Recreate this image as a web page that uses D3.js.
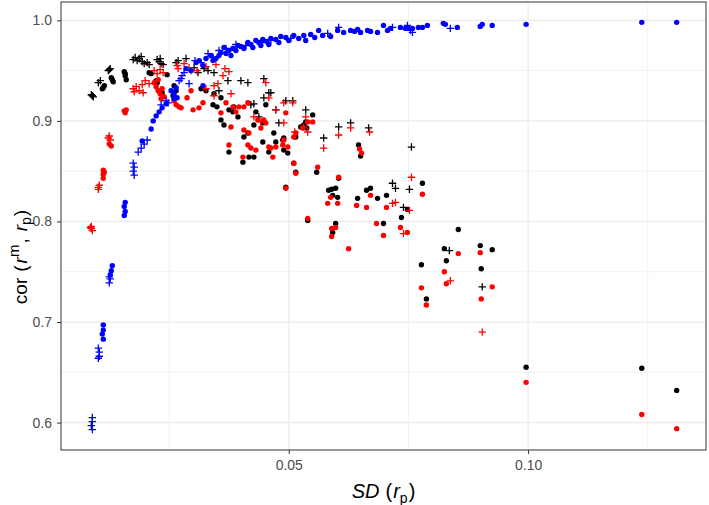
<!DOCTYPE html>
<html><head><meta charset="utf-8">
<script src="https://cdn.jsdelivr.net/npm/d3@7"></script>
<style>body{margin:0;background:#fff}</style>
</head><body><svg id="c" width="709" height="505"></svg>
<script>
// [SD(r_p), cor(r^m, r_p)]
const blackDots = [[0.01125,0.933],[0.01146,0.935],[0.01104,0.932],[0.01313,0.941],[0.01333,0.939],[0.01292,0.943],[0.01563,0.949],[0.01583,0.945],[0.01604,0.941],[0.01583,0.947],[0.02083,0.948],[0.02125,0.947],[0.02229,0.940],[0.0225,0.938],[0.02354,0.928],[0.02458,0.946],[0.02604,0.935],[0.02583,0.925],[0.02646,0.930],[0.03417,0.916],[0.03583,0.923],[0.0375,0.911],[0.03854,0.914],[0.03938,0.904],[0.03583,0.901],[0.03646,0.896],[0.04313,0.909],[0.04521,0.916],[0.04458,0.898],[0.04688,0.888],[0.04729,0.879],[0.04896,0.883],[0.04979,0.868],[0.05104,0.858],[0.055,0.906],[0.05354,0.899],[0.05833,0.831],[0.05979,0.833],[0.05917,0.826],[0.05979,0.798],[0.05917,0.789],[0.05396,0.801],[0.04042,0.859],[0.04167,0.864],[0.04271,0.864],[0.0375,0.869],[0.04583,0.869],[0.05146,0.849],[0.05583,0.849],[0.03438,0.927],[0.03833,0.909],[0.04063,0.884],[0.04146,0.888],[0.04271,0.896],[0.04458,0.879],[0.04875,0.881],[0.04896,0.871],[0.05146,0.884],[0.05313,0.896],[0.06458,0.876],[0.065,0.865],[0.06042,0.843],[0.05896,0.832],[0.06021,0.824],[0.06438,0.823],[0.06708,0.833],[0.06854,0.823],[0.07042,0.826],[0.04938,0.834],[0.06979,0.798],[0.06625,0.831],[0.07792,0.838],[0.07479,0.812],[0.07354,0.804],[0.08542,0.792],[0.0825,0.773],[0.08292,0.761],[0.09,0.776],[0.0925,0.772],[0.09021,0.753],[0.07771,0.757],[0.07875,0.723],[0.09958,0.655],[0.12375,0.654],[0.13104,0.632],[0.03167,0.932],[0.03271,0.930],[0.035,0.914],[0.0525,0.894],[0.05375,0.893]];
const blackPlus = [[0.00896,0.925],[0.00875,0.926],[0.00917,0.924],[0.01021,0.938],[0.01063,0.940],[0.0125,0.951],[0.01271,0.952],[0.01229,0.950],[0.0175,0.961],[0.01792,0.963],[0.01833,0.960],[0.01875,0.962],[0.01938,0.959],[0.01979,0.957],[0.02042,0.958],[0.02083,0.956],[0.01917,0.964],[0.0225,0.961],[0.02292,0.959],[0.02333,0.957],[0.02375,0.956],[0.02313,0.962],[0.02688,0.960],[0.02854,0.962],[0.02646,0.958],[0.03021,0.953],[0.03104,0.948],[0.03229,0.952],[0.03313,0.950],[0.03438,0.948],[0.03542,0.930],[0.03729,0.940],[0.04,0.940],[0.04146,0.938],[0.04208,0.916],[0.04479,0.942],[0.04583,0.928],[0.05354,0.911],[0.05729,0.883],[0.04271,0.917],[0.04479,0.923],[0.04729,0.911],[0.04792,0.898],[0.04375,0.904],[0.05083,0.920],[0.04938,0.920],[0.04625,0.928],[0.06042,0.894],[0.06292,0.898],[0.06667,0.893],[0.07167,0.838],[0.07229,0.833],[0.07563,0.874],[0.07521,0.832],[0.07396,0.814],[0.08354,0.771],[0.09042,0.735]];
const redDots = [[0.01125,0.851],[0.01125,0.847],[0.01125,0.843],[0.01146,0.849],[0.0125,0.877],[0.01292,0.875],[0.01563,0.910],[0.01583,0.908],[0.01604,0.911],[0.02188,0.938],[0.02229,0.934],[0.02271,0.930],[0.02313,0.927],[0.02354,0.932],[0.02396,0.924],[0.02271,0.941],[0.02333,0.922],[0.02604,0.920],[0.02708,0.914],[0.02958,0.930],[0.03,0.911],[0.03125,0.913],[0.03208,0.918],[0.03688,0.918],[0.03833,0.914],[0.03896,0.909],[0.03958,0.914],[0.04063,0.914],[0.04146,0.918],[0.04354,0.901],[0.04479,0.901],[0.04417,0.893],[0.04167,0.888],[0.04208,0.873],[0.04313,0.871],[0.04583,0.874],[0.04667,0.864],[0.0375,0.876],[0.03792,0.894],[0.04042,0.864],[0.04938,0.908],[0.05146,0.888],[0.05104,0.884],[0.04896,0.881],[0.05396,0.899],[0.05604,0.854],[0.04938,0.833],[0.05396,0.803],[0.05875,0.824],[0.05813,0.818],[0.06021,0.818],[0.06042,0.844],[0.03583,0.908],[0.04146,0.876],[0.04063,0.891],[0.04521,0.898],[0.04625,0.873],[0.04729,0.874],[0.04875,0.876],[0.04979,0.874],[0.05146,0.848],[0.05292,0.893],[0.055,0.899],[0.05104,0.858],[0.06479,0.872],[0.06521,0.868],[0.05896,0.793],[0.05896,0.785],[0.05979,0.794],[0.0625,0.773],[0.06417,0.816],[0.06625,0.814],[0.06708,0.826],[0.06833,0.798],[0.06979,0.786],[0.07042,0.814],[0.07333,0.794],[0.07792,0.827],[0.07479,0.789],[0.08542,0.768],[0.0825,0.750],[0.08292,0.738],[0.09,0.769],[0.0925,0.735],[0.09021,0.723],[0.07771,0.734],[0.07875,0.717],[0.09958,0.640],[0.12375,0.608],[0.13104,0.594],[0.02646,0.916],[0.02875,0.923],[0.0275,0.913]];
const redPlus = [[0.00875,0.793],[0.00875,0.795],[0.00896,0.791],[0.00854,0.794],[0.01021,0.834],[0.01042,0.836],[0.01021,0.832],[0.0125,0.885],[0.01271,0.881],[0.01229,0.883],[0.0175,0.932],[0.01813,0.934],[0.01875,0.930],[0.01938,0.936],[0.01958,0.928],[0.01771,0.929],[0.02,0.940],[0.02083,0.937],[0.02188,0.950],[0.0225,0.947],[0.02313,0.951],[0.02375,0.948],[0.02688,0.952],[0.02958,0.950],[0.03438,0.925],[0.03521,0.937],[0.03625,0.945],[0.03792,0.927],[0.04271,0.904],[0.04521,0.938],[0.04729,0.911],[0.04896,0.918],[0.05083,0.918],[0.05313,0.894],[0.05354,0.904],[0.05729,0.873],[0.03271,0.932],[0.03438,0.935],[0.04417,0.899],[0.04583,0.923],[0.04896,0.898],[0.05125,0.889],[0.06042,0.886],[0.06292,0.893],[0.06688,0.889],[0.07167,0.818],[0.07229,0.819],[0.05396,0.889],[0.07563,0.844],[0.07521,0.811],[0.07396,0.788],[0.08375,0.741],[0.09042,0.690],[0.02667,0.955],[0.02813,0.957],[0.02917,0.953],[0.03083,0.950],[0.03271,0.954],[0.03479,0.956],[0.03667,0.952],[0.0375,0.949]];
const blueDots = [[0.01125,0.697],[0.01125,0.692],[0.01104,0.688],[0.01125,0.683],[0.01313,0.756],[0.01292,0.751],[0.01271,0.747],[0.01583,0.819],[0.01563,0.815],[0.01583,0.810],[0.01563,0.806],[0.01938,0.880],[0.02125,0.892],[0.02167,0.900],[0.02229,0.905],[0.02292,0.909],[0.02354,0.913],[0.02438,0.917],[0.02542,0.930],[0.02604,0.927],[0.02646,0.933],[0.02667,0.923],[0.02604,0.922],[0.02958,0.950],[0.03208,0.955],[0.03208,0.935],[0.03375,0.965],[0.03063,0.958],[0.03479,0.962],[0.03583,0.968],[0.03646,0.973],[0.0375,0.970],[0.03833,0.972],[0.03938,0.975],[0.04,0.974],[0.04146,0.978],[0.04208,0.976],[0.04313,0.980],[0.04375,0.978],[0.04458,0.981],[0.04542,0.979],[0.04625,0.982],[0.04729,0.981],[0.04833,0.984],[0.04938,0.983],[0.05104,0.985],[0.05313,0.985],[0.05458,0.986],[0.05625,0.990],[0.06021,0.990],[0.06292,0.990],[0.06375,0.989],[0.06438,0.991],[0.06646,0.990],[0.06708,0.989],[0.06854,0.988],[0.06979,0.995],[0.07063,0.990],[0.07333,0.993],[0.07438,0.992],[0.07708,0.993],[0.075,0.992],[0.07792,0.993],[0.07896,0.995],[0.08229,0.997],[0.08271,0.996],[0.08521,0.993],[0.09,0.994],[0.09042,0.996],[0.0925,0.995],[0.09958,0.996],[0.12375,0.998],[0.13104,0.998],[0.02854,0.952],[0.03125,0.960],[0.03271,0.962],[0.03417,0.960],[0.03542,0.965],[0.03688,0.967],[0.03792,0.965],[0.03896,0.970],[0.04063,0.972],[0.0425,0.973],[0.04417,0.975],[0.04583,0.976],[0.04792,0.978],[0.05,0.980],[0.05208,0.982],[0.05354,0.980],[0.05542,0.983],[0.05708,0.985],[0.05875,0.984],[0.06146,0.988],[0.065,0.988],[0.07125,0.992],[0.07583,0.992]];
const bluePlus = [[0.00896,0.605],[0.00896,0.601],[0.00875,0.597],[0.00896,0.593],[0.01021,0.674],[0.01042,0.670],[0.01042,0.666],[0.01021,0.664],[0.0125,0.739],[0.01271,0.743],[0.0125,0.745],[0.0175,0.858],[0.01771,0.854],[0.0175,0.850],[0.01771,0.846],[0.01854,0.869],[0.01917,0.873],[0.01979,0.877],[0.02042,0.881],[0.02333,0.916],[0.02438,0.920],[0.02479,0.918],[0.02708,0.940],[0.02771,0.945],[0.02813,0.948],[0.02917,0.937],[0.0275,0.942],[0.03042,0.960],[0.03167,0.958],[0.03313,0.967],[0.03417,0.963],[0.03542,0.970],[0.03688,0.972],[0.03896,0.976],[0.04104,0.975],[0.04417,0.978],[0.04625,0.980],[0.05042,0.982],[0.05813,0.987],[0.06042,0.993],[0.07167,0.993],[0.07542,0.990],[0.07479,0.995],[0.07583,0.988],[0.08375,0.992]];

const xTicks = [0.05, 0.10];
const xTickLabels = ["0.05", "0.10"];
const xMinor = [0.025, 0.075, 0.125];
const yTicks = [0.6, 0.7, 0.8, 0.9, 1.0];
const yTickLabels = ["0.6", "0.7", "0.8", "0.9", "1.0"];
const yMinor = [0.65, 0.75, 0.85, 0.95];

const series = [
  {data: blackDots, color: "#000000", shape: "dot"},
  {data: blackPlus, color: "#000000", shape: "plus"},
  {data: redDots, color: "#ff0000", shape: "dot"},
  {data: redPlus, color: "#ff0000", shape: "plus"},
  {data: blueDots, color: "#0000ff", shape: "dot"},
  {data: bluePlus, color: "#0000ff", shape: "plus"}
];

const panel = {l: 61, t: 2, r: 706, b: 450};
const all = series.flatMap(s => s.data);
function expand(ext) { const w = ext[1] - ext[0]; return [ext[0] - 0.05 * w, ext[1] + 0.05 * w]; }
const x = d3.scaleLinear().domain(expand(d3.extent(all, d => d[0]))).range([panel.l, panel.r]);
const y = d3.scaleLinear().domain(expand(d3.extent(all, d => d[1]))).range([panel.b, panel.t]);

const svg = d3.select("#c");
svg.append("rect").attr("width", 709).attr("height", 505).attr("fill", "#fff");
const g = svg.append("g");
g.selectAll(".xm").data(xMinor).join("line").attr("x1", d => x(d)).attr("x2", d => x(d)).attr("y1", panel.t).attr("y2", panel.b).attr("stroke", "#ebebeb").attr("stroke-width", 0.7);
g.selectAll(".ym").data(yMinor).join("line").attr("y1", d => y(d)).attr("y2", d => y(d)).attr("x1", panel.l).attr("x2", panel.r).attr("stroke", "#ebebeb").attr("stroke-width", 0.7);
g.selectAll(".xg").data(xTicks).join("line").attr("x1", d => x(d)).attr("x2", d => x(d)).attr("y1", panel.t).attr("y2", panel.b).attr("stroke", "#ebebeb").attr("stroke-width", 1.2);
g.selectAll(".yg").data(yTicks).join("line").attr("y1", d => y(d)).attr("y2", d => y(d)).attr("x1", panel.l).attr("x2", panel.r).attr("stroke", "#ebebeb").attr("stroke-width", 1.2);

const pts = svg.append("g");
series.forEach(s => {
  if (s.shape === "dot") {
    pts.append("g").selectAll("circle").data(s.data).join("circle")
      .attr("cx", d => x(d[0])).attr("cy", d => y(d[1])).attr("r", 2.7).attr("fill", s.color);
  } else {
    pts.append("g").selectAll("path").data(s.data).join("path")
      .attr("transform", d => `translate(${x(d[0])},${y(d[1])})`)
      .attr("d", "M-3.7,0H3.7M0,-3.7V3.7").attr("stroke", s.color).attr("stroke-width", 1.3).attr("fill", "none");
  }
});

svg.append("rect").attr("x", panel.l).attr("y", panel.t).attr("width", panel.r - panel.l).attr("height", panel.b - panel.t)
  .attr("fill", "none").attr("stroke", "#333").attr("stroke-width", 1);

const ff = "Liberation Sans, Arial, Helvetica, sans-serif";
const xAxis = d3.axisBottom(x).tickValues(xTicks).tickFormat((d, i) => xTickLabels[i]).tickSize(4).tickPadding(6);
const yAxis = d3.axisLeft(y).tickValues(yTicks).tickFormat((d, i) => yTickLabels[i]).tickSize(4).tickPadding(5);
const gx = svg.append("g").attr("transform", `translate(0,${panel.b})`).call(xAxis);
const gy = svg.append("g").attr("transform", `translate(${panel.l},0)`).call(yAxis);
[gx, gy].forEach(a => {
  a.select(".domain").remove();
  a.selectAll(".tick line").attr("stroke", "#333").attr("stroke-width", 1);
  a.selectAll(".tick text").attr("fill", "#4d4d4d").style("font-family", ff).style("font-size", "14px");
});

const xt = svg.append("text").attr("x", (panel.l + panel.r) / 2).attr("y", 498).attr("text-anchor", "middle")
  .style("font-family", ff).style("font-size", "20px").attr("fill", "#000");
xt.append("tspan").style("font-style", "italic").text("SD");
xt.append("tspan").attr("dx", 6).text("(");
xt.append("tspan").attr("dx", 1).style("font-style", "italic").text("r");
xt.append("tspan").attr("dy", 5).style("font-size", "14px").text("p");
xt.append("tspan").attr("dy", -5).attr("dx", 1).text(")");

const yt = svg.append("text").attr("transform", "translate(27,257) rotate(-90)").attr("text-anchor", "middle")
  .style("font-family", ff).style("font-size", "19px").attr("fill", "#000");
yt.append("tspan").text("cor");
yt.append("tspan").attr("dx", 6).text("(");
yt.append("tspan").attr("dx", 2).style("font-style", "italic").text("r");
yt.append("tspan").attr("dy", -8).style("font-size", "15px").text("m");
yt.append("tspan").attr("dy", 8).attr("dx", 1).text(",");
yt.append("tspan").attr("dx", 7).style("font-style", "italic").text("r");
yt.append("tspan").attr("dy", 4).style("font-size", "14px").text("p");
yt.append("tspan").attr("dy", -4).attr("dx", 1).text(")");
</script></body></html>
